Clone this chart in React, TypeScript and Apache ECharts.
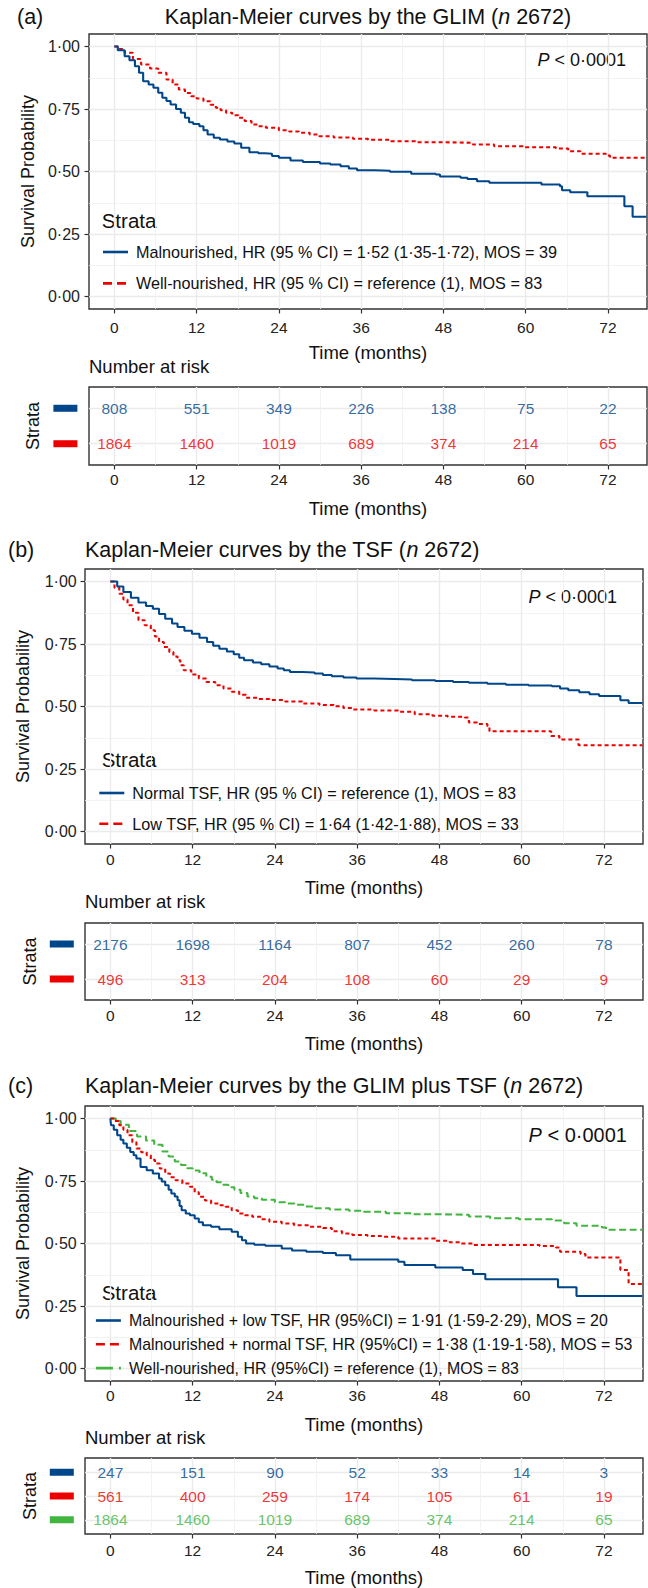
import React, { useEffect, useRef } from 'react';
import * as echarts from 'echarts';

const BLUE = '#00468B';
const RED = '#ED0000';
const GREEN = '#42B540';
const FONT = '"Liberation Sans", Arial, Helvetica, sans-serif';

const timeTicks = [0, 12, 24, 36, 48, 60, 72];
const timeMinor = [6, 18, 30, 42, 54, 66];
const survTicks = [0, 0.25, 0.5, 0.75, 1];
const survMinor = [0.125, 0.375, 0.625, 0.875];
const riskTimes = [0, 12, 24, 36, 48, 60, 72];

// Kaplan-Meier curves: [time (months), survival]
const glimMalnourished = [
  [0, 1], [0.5, 0.985], [1.5, 0.961], [2.2, 0.945], [3, 0.921], [3.6, 0.895], [4.2, 0.861], [5, 0.848],
  [5.7, 0.835], [6.4, 0.815], [7, 0.795], [7.6, 0.782], [8.2, 0.768], [9, 0.75], [9.7, 0.735], [10.3, 0.715],
  [10.9, 0.697], [11.5, 0.69], [12.4, 0.681], [13, 0.665], [13.6, 0.648], [14.5, 0.635], [15.4, 0.628],
  [16.5, 0.62], [17.5, 0.612], [18.5, 0.595], [19.7, 0.577], [21, 0.573], [22, 0.571], [23, 0.562], [24, 0.555],
  [25.7, 0.544], [27.5, 0.538], [30, 0.532], [31.5, 0.528], [33, 0.521], [34.2, 0.512], [35.4, 0.505],
  [38, 0.503], [40.2, 0.499], [43.3, 0.491], [46.9, 0.488], [47.5, 0.48], [50.5, 0.475], [51.5, 0.47],
  [52.9, 0.461], [54.7, 0.455], [62.3, 0.448], [65, 0.441], [65.3, 0.425], [66.5, 0.417], [69, 0.401],
  [74.4, 0.361], [75.6, 0.319], [77.6, 0.319],
];
const wellNourished = [
  [0, 1], [0.8, 0.99], [1.5, 0.975], [2.7, 0.95], [3.9, 0.928], [5.2, 0.912], [6.4, 0.895], [7.6, 0.868],
  [8.5, 0.848], [9.4, 0.828], [10.3, 0.814], [11.2, 0.801], [12, 0.792], [13, 0.781], [14, 0.767], [14.8, 0.755],
  [15.5, 0.745], [16.3, 0.735], [17.2, 0.725], [18.1, 0.715], [19, 0.702], [20, 0.688], [21, 0.681],
  [22.1, 0.675], [24, 0.665], [25.5, 0.66], [26.9, 0.655], [28.5, 0.648], [29.9, 0.641], [32, 0.636],
  [34.8, 0.631], [37, 0.627], [40.2, 0.621], [43.9, 0.617], [48, 0.615], [52.3, 0.608], [55.4, 0.601],
  [59.6, 0.597], [64.4, 0.592], [66.2, 0.581], [68, 0.571], [71.7, 0.564], [72.3, 0.555], [77.6, 0.555],
];
const tsfNormal = [
  [0, 1], [1, 0.98], [1.9, 0.958], [3, 0.935], [4.1, 0.916], [5.2, 0.902], [6.2, 0.891], [7.1, 0.87], [8, 0.851],
  [9, 0.832], [9.8, 0.818], [10.8, 0.803], [11.9, 0.791], [13, 0.775], [14.1, 0.758], [15, 0.743], [15.9, 0.731],
  [17, 0.72], [18, 0.709], [18.8, 0.695], [19.5, 0.685], [20.8, 0.676], [22, 0.669], [23.2, 0.66], [24.4, 0.652],
  [25.3, 0.645], [26.2, 0.638], [28, 0.636], [29.8, 0.632], [31, 0.626], [32.3, 0.621], [34, 0.616],
  [35.9, 0.612], [38.5, 0.61], [41.4, 0.608], [44, 0.605], [47.4, 0.602], [50, 0.598], [52.3, 0.595],
  [55, 0.591], [57.7, 0.587], [61, 0.584], [64.4, 0.581], [65.6, 0.572], [66.8, 0.565], [68.4, 0.557],
  [69.9, 0.549], [71.3, 0.542], [74.4, 0.525], [75.6, 0.514], [77.6, 0.514],
];
const tsfLow = [
  [0, 1], [0.6, 0.975], [1.3, 0.951], [1.9, 0.928], [2.5, 0.905], [3.3, 0.875], [4.1, 0.845], [5, 0.825],
  [5.9, 0.805], [6.5, 0.78], [7.1, 0.758], [7.8, 0.738], [8.6, 0.718], [9.2, 0.7], [9.8, 0.685], [10.2, 0.665],
  [10.7, 0.645], [11.8, 0.628], [12.9, 0.612], [14, 0.598], [15.3, 0.585], [16.5, 0.572], [17.7, 0.559],
  [18.8, 0.547], [19.8, 0.535], [21.5, 0.53], [23.2, 0.526], [25.5, 0.52], [28, 0.512], [30.5, 0.506],
  [32.6, 0.501], [34, 0.494], [35.3, 0.488], [38.5, 0.484], [42, 0.479], [44.4, 0.469], [47, 0.463],
  [49.2, 0.459], [51.7, 0.456], [52.3, 0.436], [53.5, 0.43], [55, 0.421], [55.3, 0.401], [64.3, 0.382],
  [65.5, 0.368], [68.3, 0.345], [77.6, 0.345],
];
const malLowTsf = [
  [0, 1], [0.1, 0.973], [0.5, 0.955], [1, 0.933], [1.5, 0.915], [1.9, 0.9], [2.4, 0.883], [2.9, 0.866],
  [3.4, 0.853], [3.8, 0.84], [4.4, 0.806], [5.3, 0.793], [6.2, 0.78], [7.1, 0.76], [7.5, 0.748], [8, 0.733],
  [8.5, 0.715], [8.9, 0.7], [9.4, 0.688], [9.8, 0.673], [10.1, 0.65], [10.4, 0.633], [11, 0.62], [11.6, 0.613],
  [12.3, 0.6], [12.9, 0.585], [13.5, 0.573], [14.7, 0.567], [15.9, 0.557], [17.7, 0.547], [18.6, 0.527],
  [19.2, 0.513], [19.8, 0.5], [21, 0.495], [22.6, 0.491], [25, 0.48], [26.5, 0.472], [28.6, 0.467], [31, 0.462],
  [32.9, 0.453], [35, 0.436], [42, 0.427], [42.9, 0.414], [47.4, 0.404], [51.4, 0.394], [52.9, 0.378],
  [54.7, 0.357], [65.3, 0.325], [68, 0.29], [77.6, 0.29],
];
const malNormalTsf = [
  [0, 1], [0.6, 0.99], [1.3, 0.973], [1.9, 0.955], [2.5, 0.933], [3.2, 0.905], [3.8, 0.88], [4.5, 0.865],
  [5.3, 0.853], [5.9, 0.835], [6.5, 0.82], [7.2, 0.8], [8, 0.78], [8.7, 0.765], [9.5, 0.753], [10.5, 0.74],
  [11.6, 0.727], [12.3, 0.705], [12.9, 0.687], [13.8, 0.672], [14.7, 0.66], [15.8, 0.653], [16.8, 0.647],
  [17.7, 0.633], [18.6, 0.62], [19.6, 0.613], [20.7, 0.607], [22, 0.597], [23.2, 0.587], [25, 0.58],
  [26.8, 0.573], [29, 0.567], [31, 0.562], [32.3, 0.549], [33.8, 0.54], [35.3, 0.534], [37.5, 0.53],
  [39.5, 0.527], [42, 0.52], [47.4, 0.511], [49.5, 0.505], [51.1, 0.5], [52.9, 0.494], [62.6, 0.49],
  [65, 0.484], [65.6, 0.467], [68.6, 0.458], [69.3, 0.444], [74.4, 0.394], [75.6, 0.338], [77.6, 0.338],
];

// Numbers at risk
const riskGlimMal = [808, 551, 349, 226, 138, 75, 22];
const riskWell = [1864, 1460, 1019, 689, 374, 214, 65];
const riskTsfNormal = [2176, 1698, 1164, 807, 452, 260, 78];
const riskTsfLow = [496, 313, 204, 108, 60, 29, 9];
const riskMalLow = [247, 151, 90, 52, 33, 14, 3];
const riskMalNormal = [561, 400, 259, 174, 105, 61, 19];

const labelsA = [
  'Malnourished, HR (95 % CI) = 1·52 (1·35-1·72), MOS = 39',
  'Well-nourished, HR (95 % CI) = reference (1), MOS = 83',
];
const labelsB = [
  'Normal TSF, HR (95 % CI) = reference (1), MOS = 83',
  'Low TSF, HR (95 % CI) = 1·64 (1·42-1·88), MOS = 33',
];
const labelsC = [
  'Malnourished + low TSF, HR (95%CI) = 1·91 (1·59-2·29), MOS = 20',
  'Malnourished + normal TSF, HR (95%CI) = 1·38 (1·19-1·58), MOS = 53',
  'Well-nourished, HR (95%CI) = reference (1), MOS = 83',
];

type Stratum = { label: string; color: string; curve: number[][]; risk: number[]; dash: any; legendDash: any };

const panels = [
  {
    tag: '(a)', titleText: 'Kaplan-Meier curves by the GLIM (', tagX: 17, tagY: 17, titleX: 368, titleAlign: 'center', titleY: 17,
    plot: { left: 89, top: 34, width: 558, height: 275 }, risk: { left: 89, top: 387, width: 558, height: 78 },
    xLabelMargin: 10, riskLabelMargin: 6, yNameGap: 47, riskNameGap: 47, yLabelMargin: 9, riskKeyMargin: 11.6,
    pX: 626, pY: 60, pSize: 18, strataY: 220, legendLeft: 101.7, legendTop: 244, legendGap: 15.4, legendFont: 16.2, narY: 366,
    strata: [
      { label: labelsA[0], color: BLUE, curve: glimMalnourished, risk: riskGlimMal, dash: 'solid', legendDash: 'solid' },
      { label: labelsA[1], color: RED, curve: wellNourished, risk: riskWell, dash: [4, 3], legendDash: [9, 5] },
    ] as Stratum[],
  },
  {
    tag: '(b)', titleText: 'Kaplan-Meier curves by the TSF (', tagX: 8, tagY: 550, titleX: 85, titleAlign: 'left', titleY: 550,
    plot: { left: 85, top: 569, width: 558, height: 275 }, risk: { left: 85, top: 923, width: 558, height: 77 },
    xLabelMargin: 7.5, riskLabelMargin: 7, yNameGap: 53, riskNameGap: 45, yLabelMargin: 8.3, riskKeyMargin: 11.2,
    pX: 617, pY: 597, pSize: 18, strataY: 759.3, legendLeft: 98, legendTop: 785, legendGap: 14.8, legendFont: 16.2, narY: 901.7,
    strata: [
      { label: labelsB[0], color: BLUE, curve: tsfNormal, risk: riskTsfNormal, dash: 'solid', legendDash: 'solid' },
      { label: labelsB[1], color: RED, curve: tsfLow, risk: riskTsfLow, dash: [4, 3], legendDash: [9, 5] },
    ] as Stratum[],
  },
  {
    tag: '(c)', titleText: 'Kaplan-Meier curves by the GLIM plus TSF (', tagX: 8, tagY: 1086, titleX: 85, titleAlign: 'left', titleY: 1086,
    plot: { left: 85, top: 1106, width: 558, height: 275 }, risk: { left: 85, top: 1458, width: 558, height: 78 },
    xLabelMargin: 6, riskLabelMargin: 8, yNameGap: 53, riskNameGap: 45, yLabelMargin: 8.3, riskKeyMargin: 11.2,
    pX: 627, pY: 1135, pSize: 20, strataY: 1292.7, legendLeft: 94.6, legendTop: 1312.5, legendGap: 7.8, legendFont: 15.9, narY: 1437,
    strata: [
      { label: labelsC[0], color: BLUE, curve: malLowTsf, risk: riskMalLow, dash: 'solid', legendDash: 'solid' },
      { label: labelsC[1], color: RED, curve: malNormalTsf, risk: riskMalNormal, dash: [4, 3], legendDash: [9, 5] },
      { label: labelsC[2], color: GREEN, curve: wellNourished, risk: riskWell, dash: [7, 3.5], legendDash: [17, 6, 2, 6] },
    ] as Stratum[],
  },
];

const MAJOR = { color: '#EBEBEB', width: 1.4 };
const MINOR = { color: '#F0F0F0', width: 0.8 };
const fmt2 = (v: number) => v.toFixed(2).replace('.', '·');

function buildOption() {
  const grid: any[] = [];
  const xAxis: any[] = [];
  const yAxis: any[] = [];
  const series: any[] = [];
  const legend: any[] = [];
  const graphic: any[] = [];

  panels.forEach((p) => {
    const gPlot = grid.length;
    const gRisk = gPlot + 1;
    [p.plot, p.risk].forEach((r) => {
      grid.push({ ...r, show: true, backgroundColor: '#fff', borderColor: '#333', borderWidth: 1.4, containLabel: false });
    });
    [gPlot, gRisk].forEach((g) => {
      const isRisk = g === gRisk;
      xAxis.push({
        type: 'value', gridIndex: g, min: -3.7, max: 77.7,
        axisLine: { show: false, onZero: false },
        axisTick: { show: true, length: 4.5, customValues: timeTicks, lineStyle: { color: '#333', width: 1.2 } },
        axisLabel: { customValues: timeTicks, margin: isRisk ? p.riskLabelMargin : p.xLabelMargin, fontSize: 15.5, color: '#222', fontFamily: FONT },
        splitLine: { show: true, lineStyle: MAJOR },
        name: 'Time (months)', nameLocation: 'middle', nameGap: 34,
        nameTextStyle: { fontSize: 18.5, color: '#111', fontFamily: FONT },
      });
      xAxis.push({
        type: 'value', gridIndex: g, min: -3.7, max: 77.7,
        axisLine: { show: false, onZero: false },
        axisTick: { show: false, customValues: timeMinor },
        axisLabel: { show: false },
        splitLine: { show: true, lineStyle: MINOR },
      });
    });
    // plot y axes
    yAxis.push({
      type: 'value', gridIndex: gPlot, min: -0.05, max: 1.05,
      axisLine: { show: false, onZero: false },
      axisTick: { show: true, length: 4.5, customValues: survTicks, lineStyle: { color: '#333', width: 1.2 } },
      axisLabel: { customValues: survTicks, formatter: (v: number) => fmt2(v), margin: p.yLabelMargin, fontSize: 16, color: '#222', fontFamily: FONT },
      splitLine: { show: true, lineStyle: MAJOR },
      name: 'Survival Probability', nameLocation: 'middle', nameGap: p.yNameGap,
      nameTextStyle: { fontSize: 18, color: '#111', fontFamily: FONT },
    });
    yAxis.push({
      type: 'value', gridIndex: gPlot, min: -0.05, max: 1.05,
      axisLine: { show: false, onZero: false },
      axisTick: { show: false, customValues: survMinor },
      axisLabel: { show: false },
      splitLine: { show: true, lineStyle: MINOR },
    });
    // risk y axes
    const n = p.strata.length;
    const rows = p.strata.map((_, i) => i + 1);
    const rich: any = {};
    p.strata.forEach((s, i) => {
      rich['k' + (i + 1)] = { backgroundColor: s.color, width: 24, height: 7 };
    });
    yAxis.push({
      type: 'value', gridIndex: gRisk, min: 0.4, max: n + 0.6, inverse: true,
      axisLine: { show: false, onZero: false },
      axisTick: { show: false, customValues: rows },
      axisLabel: { customValues: rows, formatter: (v: number) => `{k${Math.round(v)}|}`, rich, margin: p.riskKeyMargin },
      splitLine: { show: true, lineStyle: MAJOR },
      name: 'Strata', nameLocation: 'middle', nameGap: p.riskNameGap,
      nameTextStyle: { fontSize: 18, color: '#111', fontFamily: FONT },
    });
    yAxis.push({
      type: 'value', gridIndex: gRisk, min: 0.4, max: n + 0.6, inverse: true,
      axisLine: { show: false, onZero: false }, axisTick: { show: false }, axisLabel: { show: false }, splitLine: { show: false },
    });

    p.strata.forEach((s, i) => {
      series.push({
        type: 'line', name: s.label, xAxisIndex: gPlot * 2, yAxisIndex: gPlot * 2,
        data: s.curve, step: 'end', symbol: 'none', showSymbol: false, clip: true, silent: true,
        lineStyle: { color: s.color, width: 2.1, type: s.dash },
        itemStyle: { color: s.color }, z: 5 - i,
      });
      series.push({
        type: 'scatter', xAxisIndex: gRisk * 2, yAxisIndex: gRisk * 2, silent: true,
        data: riskTimes.map((t, k) => [t, i + 1, s.risk[k]]),
        symbolSize: 1, itemStyle: { color: 'rgba(0,0,0,0)' },
        label: { show: true, position: 'inside', formatter: (q: any) => String(q.value[2]), color: s.color, fontSize: 15.5, fontFamily: FONT },
      });
    });

    legend.push({
      orient: 'vertical', left: p.legendLeft, top: p.legendTop, padding: 0,
      itemWidth: 25, itemHeight: 14, itemGap: p.legendGap, selectedMode: false,
      textStyle: { fontSize: p.legendFont, color: '#111', fontFamily: FONT, lineHeight: 14, padding: [0, 0, 0, 3] },
      data: p.strata.map((s) => ({
        name: s.label,
        lineStyle: { type: s.legendDash, width: 2.6, color: s.color },
        itemStyle: { color: 'rgba(0,0,0,0)', borderWidth: 0, opacity: 0 },
      })),
    });

    graphic.push(
      { type: 'text', x: p.tagX, y: p.tagY, style: { text: p.tag, fontSize: 21.5, fontFamily: FONT, fill: '#111', align: 'left', verticalAlign: 'middle', textAlign: 'left', textVerticalAlign: 'middle' } },
      {
        type: 'text', x: p.titleX, y: p.titleY,
        style: {
          text: p.titleText + '{i|n} 2672)', fontSize: 21.5, fontFamily: FONT, fill: '#111',
          align: p.titleAlign, verticalAlign: 'middle', textAlign: p.titleAlign, textVerticalAlign: 'middle',
          rich: { i: { fontStyle: 'italic', fontSize: 21.5, fontFamily: FONT, fill: '#111' } },
        },
      },
      {
        type: 'text', x: p.pX, y: p.pY,
        style: {
          text: '{i|P} < 0·0001', fontSize: p.pSize, fontFamily: FONT, fill: '#111',
          align: 'right', verticalAlign: 'middle', textAlign: 'right', textVerticalAlign: 'middle',
          rich: { i: { fontStyle: 'italic', fontSize: p.pSize, fontFamily: FONT, fill: '#111' } },
        },
      },
      { type: 'text', x: 101.7, y: p.strataY, style: { text: 'Strata', fontSize: 20.5, fontFamily: FONT, fill: '#111', align: 'left', verticalAlign: 'middle', textAlign: 'left', textVerticalAlign: 'middle' } },
      { type: 'text', x: p.risk.left, y: p.narY, style: { text: 'Number at risk', fontSize: 18.5, fontFamily: FONT, fill: '#111', align: 'left', verticalAlign: 'middle', textAlign: 'left', textVerticalAlign: 'middle' } },
    );
  });

  return {
    animation: false,
    backgroundColor: '#fff',
    textStyle: { fontFamily: FONT },
    grid, xAxis, yAxis, series, legend, graphic,
  };
}

export default function App() {
  const ref = useRef<HTMLDivElement>(null);
  useEffect(() => {
    if (!ref.current) return;
    const chart = echarts.init(ref.current, null, { renderer: 'svg' });
    chart.setOption(buildOption() as any);
    return () => chart.dispose();
  }, []);
  return <div ref={ref} style={{ position: 'absolute', left: 0, top: 0, width: 648, height: 1588 }} />;
}
